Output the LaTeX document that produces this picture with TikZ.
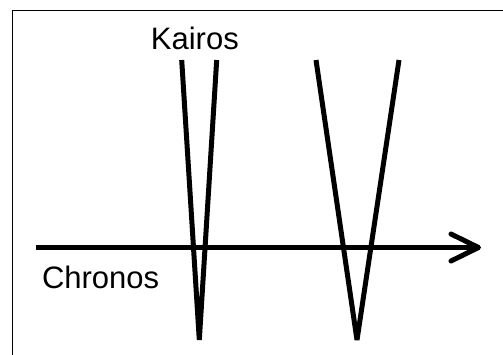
\documentclass[tikz,border=0pt]{standalone}
\usepackage{fontspec}
\setmainfont{Liberation Sans}
\begin{document}
\begin{tikzpicture}[x=1pt,y=-1pt,
  frameline/.style={line width=1.5pt,black},
  strokeline/.style={line width=5pt,black},
  label/.style={anchor=base west,inner sep=0pt,font=\fontsize{31}{36}\selectfont}]
\useasboundingbox (0,0) rectangle (503,354);
% frame (clipped at right and bottom)
\draw[frameline] (12.5,360) -- (12.5,10.5) -- (510,10.5);
% named points
\coordinate (v1a) at (181.7,60);
\coordinate (v1b) at (199.3,340);
\coordinate (v1c) at (216.7,60);
\coordinate (v2a) at (316,60);
\coordinate (v2b) at (357,340);
\coordinate (v2c) at (399,60);
\coordinate (start) at (35.7,247.5);
\coordinate (tip) at (478.5,247.5);
\coordinate (hu) at (451,234);
\coordinate (hd) at (451,261);
% Kairos V shapes
\draw[strokeline,line join=bevel] (v1a) -- (v1b) -- (v1c);
\draw[strokeline,line join=bevel] (v2a) -- (v2b) -- (v2c);
% Chronos arrow
\draw[strokeline] (start) -- (tip);
\draw[strokeline,line cap=round,line join=round] (hu) -- (tip) -- (hd);
% labels
\node[label] (kairos) at (150.7,49) {Kairos};
\node[label] (chronos) at (41.8,288.3) {Chronos};
\end{tikzpicture}
\end{document}
